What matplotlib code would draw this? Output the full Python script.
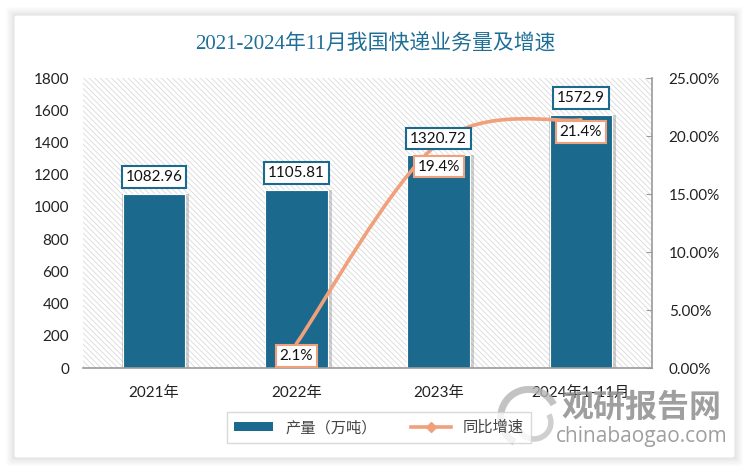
import numpy as np
import matplotlib
matplotlib.use('Agg')
import matplotlib.pyplot as plt
from matplotlib.patches import FancyBboxPatch, Rectangle, Arc, PathPatch
from matplotlib.path import Path
from matplotlib.lines import Line2D
from matplotlib.ticker import FuncFormatter

plt.rcParams['font.family'] = ['Lato', 'Noto Sans CJK SC', 'DejaVu Sans']
plt.rcParams['hatch.linewidth'] = 0.6

# data
years = ['2021年', '2022年', '2023年', '2024年1-11月']
volume = [1082.96, 1105.81, 1320.72, 1572.9]
growth_idx = [1, 2, 3]
growth = [2.1, 19.4, 21.4]
growth_txt = ['2.1%', '19.4%', '21.4%']

bar_col = '#1B6A8E'
line_col = '#F0A07A'

fig = plt.figure(figsize=(7.5, 4.72), dpi=100)

# outer frame with soft shadow
for i, a in enumerate([0.05, 0.05, 0.06, 0.08]):
    d = (4 - i) * 0.004
    fig.add_artist(FancyBboxPatch((0.0187 - d * 0.63, 0.0297 - d), 0.9613 + 2 * d * 0.63, 0.9383 + 2 * d,
                                  boxstyle='round,pad=0,rounding_size=0.004', transform=fig.transFigure,
                                  facecolor='#999999', edgecolor='none', alpha=a, zorder=-5))
fig.add_artist(FancyBboxPatch((0.0187, 0.0297), 0.9613, 0.9383,
                              boxstyle='round,pad=0,rounding_size=0.004', transform=fig.transFigure,
                              facecolor='white', edgecolor='#e6e6e6', lw=0.8, zorder=-4))

ax = fig.add_axes([0.1107, 0.2203, 0.7586, 0.6144])
ax.patch.set_visible(False)
ax.add_patch(Rectangle((0, 0), 1, 1, transform=ax.transAxes, facecolor='white',
                       edgecolor='#dadada', hatch='\\\\\\\\\\\\', lw=0, zorder=0))

x = np.arange(len(years))
# bar shadows
ax.bar(x + 0.012, volume, width=0.47, color='#7a7a7a', alpha=0.35, zorder=1)
bars = ax.bar(x, volume, width=0.44, color=bar_col, edgecolor='white', lw=0.8, zorder=2)

ax.set_xlim(-0.5, 3.5)
ax.set_ylim(0, 1800)
ax.set_yticks(np.arange(0, 1801, 200))
ax.set_xticks(x)
ax.set_xticklabels(years)
for s in ['top', 'right', 'left']:
    ax.spines[s].set_visible(False)
ax.spines['bottom'].set_color('#9a9a9a')
ax.spines['bottom'].set_linewidth(1.2)
ax.spines['bottom'].set_zorder(3)
ax.tick_params(axis='y', length=0, labelsize=11, pad=10, labelcolor='#222222')
ax.tick_params(axis='x', length=0, labelsize=11, pad=13, labelcolor='#222222')

ax2 = ax.twinx()
ax2.set_ylim(0, 25)
ax2.set_xlim(-0.5, 3.5)
ax2.set_yticks(np.arange(0, 25.1, 5))
ax2.yaxis.set_major_formatter(FuncFormatter(lambda v, p: '%.2f%%' % v))
for s in ['top', 'left', 'bottom']:
    ax2.spines[s].set_visible(False)
ax2.spines['right'].set_color('#9a9a9a')
ax2.spines['right'].set_linewidth(1.2)
ax2.tick_params(axis='y', direction='in', length=4, color='#9a9a9a', labelsize=11, pad=12,
                labelcolor='#222222')

# smoothed line (Catmull-Rom -> Bezier) through the growth points
P = np.column_stack([growth_idx, growth]).astype(float)
verts = [tuple(P[0])]
codes = [Path.MOVETO]
for i in range(len(P) - 1):
    p0 = P[i - 1] if i > 0 else P[i]
    p3 = P[i + 2] if i + 2 < len(P) else P[i + 1]
    c1 = P[i] + (P[i + 1] - p0) / 6
    c2 = P[i + 1] - (p3 - P[i]) / 6
    verts += [tuple(c1), tuple(c2), tuple(P[i + 1])]
    codes += [Path.CURVE4] * 3
ax2.add_patch(PathPatch(Path(verts, codes), fc='none', ec=line_col, lw=2.6, zorder=4,
                        capstyle='round'))

# value labels drawn on ax2 so they sit above the line
for xi, v in zip(x, volume):
    ax2.annotate('%g' % v, (xi, v), xycoords=ax.transData, xytext=(0, 12), textcoords='offset points',
                 ha='center', va='center', fontsize=11, color='#111111', zorder=6,
                 bbox=dict(boxstyle='square,pad=0.25', fc='white', ec=bar_col, lw=1.5))

offs = [(0, -9), (0, -17), (0, -9)]
for xi, g, t, o in zip(growth_idx, growth, growth_txt, offs):
    ax2.annotate(t, (xi, g), xytext=o, textcoords='offset points', ha='center', va='center',
                 fontsize=11, color='#111111', zorder=7,
                 bbox=dict(boxstyle='square,pad=0.25', fc='white', ec=line_col, lw=1.5))

# title
fig.text(0.5, 0.905, '2021-2024年11月我国快递业务量及增速', ha='center', va='center',
         fontsize=15, color='#1F6E96', family=['Liberation Serif', 'Noto Sans CJK SC'])

# legend
h1 = Rectangle((0, 0), 1, 1, fc=bar_col, ec='none')
h2 = Line2D([], [], color=line_col, lw=2.6, marker='D', ms=5)
leg = fig.legend([h1, h2], ['产量（万吨）', '同比增速'], loc='center', bbox_to_anchor=(0.505, 0.094),
                 ncol=2, frameon=True, fancybox=False, edgecolor='#d0d0d0',
                 prop={'family': ['Noto Sans CJK SC'], 'size': 11}, columnspacing=2.2,
                 handlelength=2.6, handleheight=0.55, borderpad=0.45)
leg.get_frame().set_linewidth(1.0)
for t in leg.get_texts():
    t.set_color('#444444')

# watermark
fig.add_artist(Arc((0.705, 0.115), 0.075, 0.12, theta1=40, theta2=250, lw=5, color='#b5b5b5',
                   alpha=0.8, transform=fig.transFigure))
fig.add_artist(Arc((0.712, 0.105), 0.045, 0.07, theta1=200, theta2=400, lw=4, color='#c4c4c4',
                   alpha=0.8, transform=fig.transFigure))
fig.text(0.855, 0.137, '观研报告网', ha='center', va='center', fontsize=23, fontweight='bold',
         color='#8e8e8e', alpha=0.85, family=['Noto Sans CJK SC'])
fig.text(0.855, 0.076, 'chinabaogao.com', ha='center', va='center', fontsize=15,
         color='#8e8e8e', alpha=0.85, family=['Open Sans'])

fig.savefig('out.png', dpi=100)
